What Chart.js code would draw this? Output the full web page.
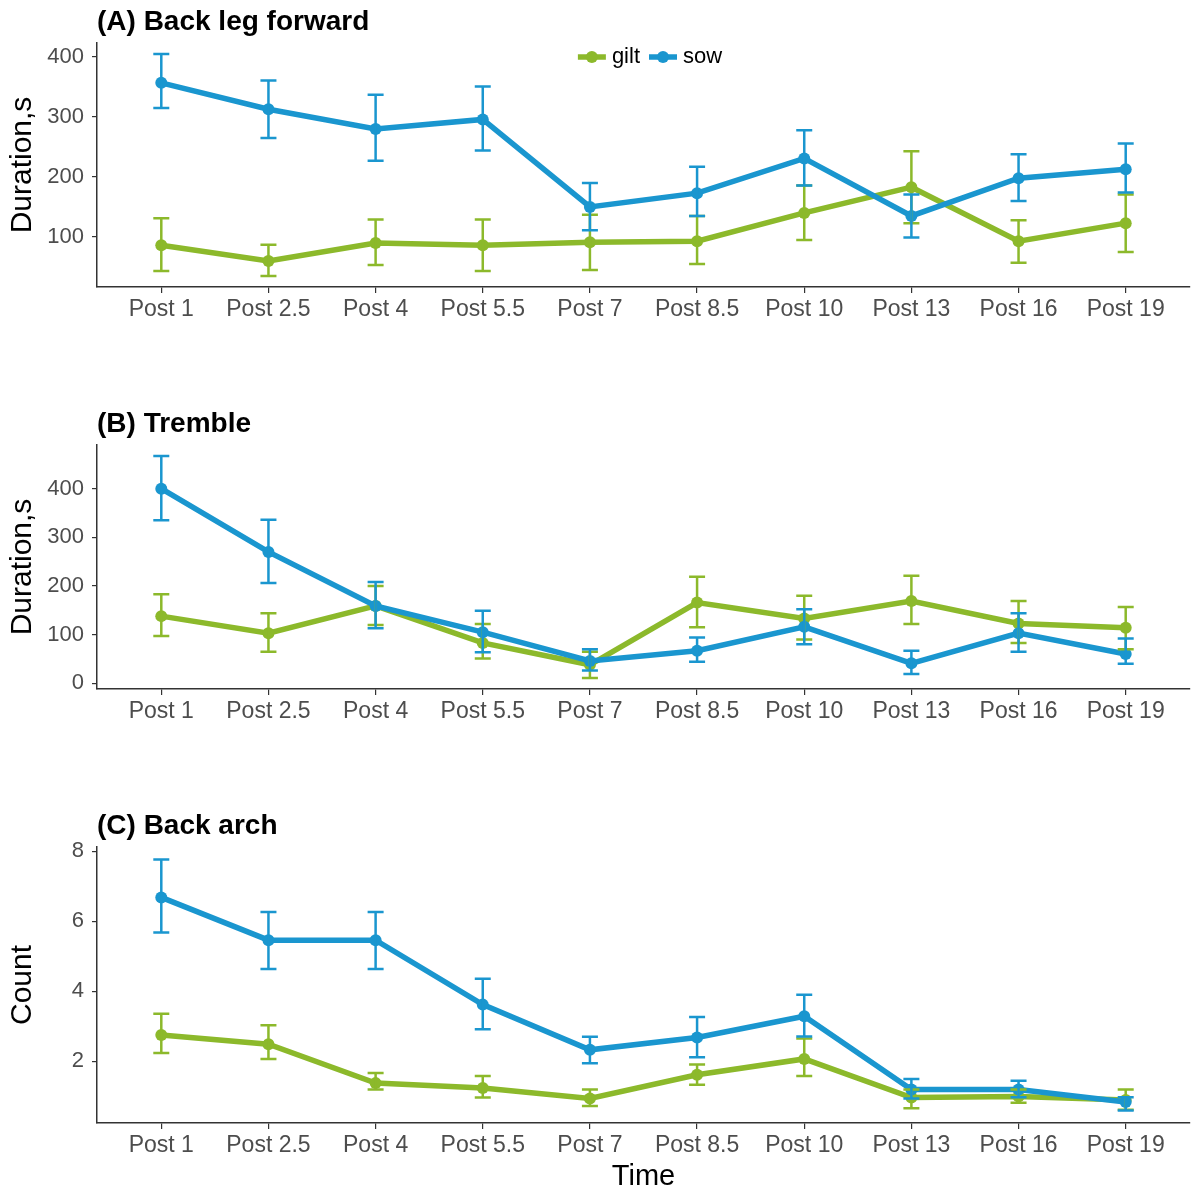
<!DOCTYPE html>
<html>
<head>
<meta charset="utf-8">
<script src="https://cdn.jsdelivr.net/npm/chart.js@4.4.0/dist/chart.umd.min.js"></script>
<style>
  body { margin: 0; background: #fff; }
  .panel { position: absolute; left: 0; width: 1197px; }
</style>
</head>
<body>
<div class="panel" style="top:0;height:335px"><canvas id="chartA"></canvas></div>
<div class="panel" style="top:402px;height:335px"><canvas id="chartB"></canvas></div>
<div class="panel" style="top:804px;height:390px"><canvas id="chartC"></canvas></div>
<script>
const timepoints = ['Post 1', 'Post 2.5', 'Post 4', 'Post 5.5', 'Post 7', 'Post 8.5', 'Post 10', 'Post 13', 'Post 16', 'Post 19'];

// (A) back leg forward, duration in s (mean, lower, upper)
const giltLeg   = [86, 60, 90, 86, 91, 93, 140, 183, 93, 123];
const giltLegLo = [43, 35, 53, 43, 45, 55, 95, 123, 57, 75];
const giltLegHi = [131, 87, 129, 129, 137, 135, 186, 243, 128, 171];
const sowLeg    = [357, 313, 280, 296, 150, 173, 231, 135, 198, 213];
const sowLegLo  = [315, 265, 227, 244, 111, 135, 186, 99, 160, 174];
const sowLegHi  = [405, 361, 337, 351, 190, 217, 278, 171, 238, 256];
const legTicks  = [100, 200, 300, 400];

// (B) tremble, duration in s
const giltTremble   = [138, 103, 159, 83, 38, 166, 133, 169, 123, 114];
const giltTrembleLo = [97, 65, 120, 51, 11, 115, 90, 122, 83, 70];
const giltTrembleHi = [183, 144, 200, 122, 65, 219, 180, 221, 169, 157];
const sowTremble    = [400, 270, 159, 105, 46, 67, 116, 41, 103, 60];
const sowTrembleLo  = [335, 206, 113, 64, 26, 44, 80, 19, 65, 40];
const sowTrembleHi  = [467, 336, 208, 149, 70, 94, 152, 67, 144, 92];
const trembleTicks  = [0, 100, 200, 300, 400];

// (C) back arch, count
const giltArch   = [2.75, 2.49, 1.38, 1.24, 0.94, 1.62, 2.07, 0.97, 1.0, 0.9];
const giltArchLo = [2.24, 2.07, 1.2, 0.97, 0.73, 1.33, 1.58, 0.66, 0.82, 0.62];
const giltArchHi = [3.36, 3.03, 1.67, 1.58, 1.2, 1.91, 2.65, 1.2, 1.2, 1.2];
const sowArch    = [6.68, 5.46, 5.46, 3.62, 2.33, 2.68, 3.29, 1.2, 1.2, 0.84];
const sowArchLo  = [5.68, 4.64, 4.64, 2.92, 1.95, 2.12, 2.71, 0.94, 0.98, 0.6];
const sowArchHi  = [7.76, 6.26, 6.26, 4.36, 2.70, 3.27, 3.90, 1.50, 1.45, 0.98];
const archTicks  = [2, 4, 6, 8];

const GILT = '#8cb92b';
const SOW = '#1a96cf';
const FONT = "'Liberation Sans', Arial, sans-serif";

// whiskers for every point, drawn from the y scale
const errorBars = {
    id: 'errorBars',
    afterDatasetsDraw(chart) {
        const ctx = chart.ctx;
        const yScale = chart.scales.y;
        chart.data.datasets.forEach((ds, di) => {
            const meta = chart.getDatasetMeta(di);
            ctx.save();
            ctx.strokeStyle = ds.borderColor;
            ctx.lineWidth = 2.5;
            meta.data.forEach((pt, i) => {
                const top = yScale.getPixelForValue(ds.hi[i]);
                const bot = yScale.getPixelForValue(ds.lo[i]);
                ctx.beginPath();
                ctx.moveTo(pt.x, top); ctx.lineTo(pt.x, bot);
                ctx.moveTo(pt.x - 8, top); ctx.lineTo(pt.x + 8, top);
                ctx.moveTo(pt.x - 8, bot); ctx.lineTo(pt.x + 8, bot);
                ctx.stroke();
            });
            ctx.restore();
        });
    }
};

// bold panel heading over the plot's left edge
const panelTitle = {
    id: 'panelTitle',
    afterDraw(chart, args, opts) {
        const ctx = chart.ctx;
        ctx.save();
        ctx.font = 'bold 28px ' + FONT;
        ctx.fillStyle = '#000';
        ctx.textBaseline = 'middle';
        ctx.textAlign = 'left';
        ctx.fillText(opts.text, chart.chartArea.left, chart.chartArea.top - 21);
        ctx.restore();
    }
};

// line+dot keys, only shown on the first panel
const keyLegend = {
    id: 'keyLegend',
    afterDraw(chart, args, opts) {
        if (!opts.show) return;
        const ctx = chart.ctx;
        ctx.save();
        ctx.font = '22px ' + FONT;
        ctx.textBaseline = 'middle';
        const items = chart.data.datasets;
        const widths = items.map(ds => 28 + 6 + ctx.measureText(ds.label).width);
        const total = widths.reduce((a, b) => a + b, 0) + 9 * (items.length - 1);
        let x = opts.centerX - total / 2;
        const y = chart.chartArea.top + 14;
        items.forEach((ds, i) => {
            ctx.strokeStyle = ds.borderColor;
            ctx.fillStyle = ds.borderColor;
            ctx.lineWidth = 5.5;
            ctx.beginPath(); ctx.moveTo(x, y); ctx.lineTo(x + 28, y); ctx.stroke();
            ctx.beginPath(); ctx.arc(x + 14, y, 6, 0, Math.PI * 2); ctx.fill();
            ctx.fillStyle = '#000';
            ctx.fillText(ds.label, x + 34, y);
            x += widths[i] + 9;
        });
        ctx.restore();
    }
};

function series(label, color, vals, lo, hi, order) {
    return {
        label, order,
        data: vals.map((v, i) => ({x: i, y: v})),
        lo, hi,
        borderColor: color,
        backgroundColor: color,
        borderWidth: 5.5,
        tension: 0,
        pointRadius: 6,
        pointBorderWidth: 0,
        pointBackgroundColor: color
    };
}

function makePanel(id, title, yTitle, ticks, gilt, sow, opts) {
    const all = gilt[1].concat(gilt[2], sow[1], sow[2]);
    const lo = Math.min(...all), hi = Math.max(...all);
    const pad = (hi - lo) * 0.05;
    return new Chart(document.getElementById(id), {
        type: 'line',
        data: {
            datasets: [
                series('gilt', GILT, gilt[0], gilt[1], gilt[2], 2),
                series('sow', SOW, sow[0], sow[1], sow[2], 1)
            ]
        },
        options: {
            responsive: true,
            maintainAspectRatio: false,
            animation: false,
            layout: { padding: { top: 43, right: 7, left: 0, bottom: 0 } },
            plugins: {
                legend: { display: false },
                tooltip: { enabled: false },
                panelTitle: { text: title },
                keyLegend: { show: !!opts.legend, centerX: 650 }
            },
            scales: {
                x: {
                    type: 'linear',
                    min: -0.6,
                    max: timepoints.length - 0.4,
                    afterBuildTicks: s => { s.ticks = timepoints.map((_, i) => ({value: i})); },
                    afterFit: s => { s.height = opts.xHeight; },
                    ticks: {
                        color: '#4d4d4d',
                        font: { family: FONT, size: 23 },
                        padding: 3,
                        autoSkip: false,
                        maxRotation: 0,
                        callback: v => timepoints[v]
                    },
                    grid: { drawOnChartArea: false, tickLength: 6, color: '#333', lineWidth: 1.2 },
                    border: { color: '#333', width: 1.5 },
                    title: {
                        display: !!opts.xTitle,
                        text: opts.xTitle || '',
                        color: '#000',
                        font: { family: FONT, size: 29 },
                        padding: { top: 0, bottom: 0 }
                    }
                },
                y: {
                    min: lo - pad,
                    max: hi + pad,
                    afterBuildTicks: s => { s.ticks = ticks.map(v => ({value: v})); },
                    afterFit: s => { s.width = 97; },
                    ticks: {
                        color: '#4d4d4d',
                        font: { family: FONT, size: 22 },
                        padding: 8
                    },
                    grid: { drawOnChartArea: false, tickLength: 5, color: '#333', lineWidth: 1.2 },
                    border: { color: '#333', width: 1.5 },
                    title: {
                        display: true,
                        text: yTitle,
                        color: '#000',
                        font: { family: FONT, size: 30 },
                        padding: { top: 5, bottom: 0 }
                    }
                }
            }
        },
        plugins: [errorBars, panelTitle, keyLegend]
    });
}

makePanel('chartA', '(A) Back leg forward', 'Duration,s', legTicks,
    [giltLeg, giltLegLo, giltLegHi], [sowLeg, sowLegLo, sowLegHi],
    { legend: true, xHeight: 48 });

makePanel('chartB', '(B) Tremble', 'Duration,s', trembleTicks,
    [giltTremble, giltTrembleLo, giltTrembleHi], [sowTremble, sowTrembleLo, sowTrembleHi],
    { xHeight: 48 });

makePanel('chartC', '(C) Back arch', 'Count', archTicks,
    [giltArch, giltArchLo, giltArchHi], [sowArch, sowArchLo, sowArchHi],
    { xHeight: 71, xTitle: 'Time' });
</script>
</body>
</html>
